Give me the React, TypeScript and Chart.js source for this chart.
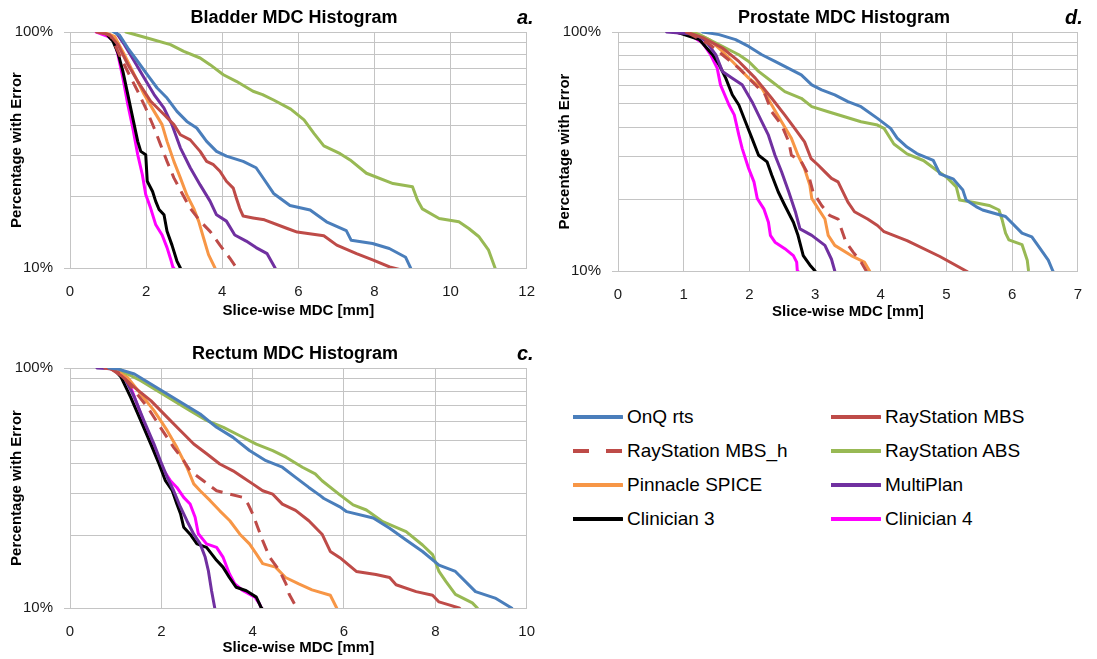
import React, { useEffect, useRef } from 'react';
import { Chart, registerables } from 'chart.js';

Chart.register(...registerables);

const FONT = '"Liberation Sans", Arial, sans-serif';
const GRID = '#c4c4c4';

// ---------- series metadata ----------
const seriesNames = [
  'OnQ rts',
  'RayStation MBS',
  'RayStation MBS_h',
  'RayStation ABS',
  'Pinnacle SPICE',
  'MultiPlan',
  'Clinician 3',
  'Clinician 4',
];
const seriesColors = ['#4A7EBB', '#BE4B48', '#BE4B48', '#98B954', '#F79646', '#7030A0', '#000000', '#FF00FF'];
const seriesDashed = [false, false, true, false, false, false, false, false];

// ---------- Bladder  [MDC mm, % with error] ----------
const bladderOnQ = [[1.15,100],[1.3,97],[1.52,85.5],[1.78,75],[2.03,65.9],[2.29,57.9],[2.55,52.5],[2.81,46.1],[3.07,41.8],[3.33,39.2],[3.59,34.4],[3.85,31.2],[4.11,29.8],[4.55,28.3],[4.89,26.6],[5.08,24],[5.35,20.7],[5.78,18.4],[6.31,17.6],[6.74,15.7],[7.26,14.4],[7.39,13.1],[7.95,12.7],[8.39,12.1],[8.82,11.1],[8.95,10],[9.0,9.5]];
const bladderMBS = [[0.7,100],[1.04,97.4],[1.26,88.4],[1.52,72.8],[1.78,61.8],[2.12,50.9],[2.47,44.7],[2.73,40.5],[2.9,36.7],[3.16,34.9],[3.42,31.2],[3.59,28.3],[3.77,27.4],[3.94,25.7],[4.11,23.3],[4.29,21.8],[4.37,19.8],[4.46,17.9],[4.55,16.6],[4.81,16.3],[5.11,16.0],[5.71,14.7],[5.97,14.2],[6.67,13.7],[7.01,12.5],[7.53,11.5],[7.97,10.8],[8.4,10.1],[8.83,9.7]];
const bladderMBSh = [[0.85,100],[1.08,95.9],[1.34,77.6],[1.6,63.9],[1.78,56.1],[1.99,47.6],[2.21,39.2],[2.38,33.3],[2.55,28.3],[2.73,24.1],[2.94,20.8],[3.16,17.9],[3.42,15.8],[3.68,14.3],[3.94,12.5],[4.2,11],[4.38,10],[4.45,9.6]];
const bladderABS = [[1.47,100],[2.03,94.3],[2.64,88.4],[2.99,82.8],[3.42,77.6],[3.68,72.7],[4.03,65.9],[4.37,61.8],[4.81,56.1],[5.06,54.3],[5.35,51.5],[5.8,47.1],[6.15,42.4],[6.41,37.2],[6.67,32.9],[7.1,30.5],[7.36,28.7],[7.79,25.2],[8.49,22.8],[9.0,22.1],[9.13,19.4],[9.26,17.8],[9.7,16.2],[10.22,15.7],[10.48,14.7],[10.74,13.6],[11.0,11.9],[11.17,10],[11.2,9.6]];
const bladderSPICE = [[0.87,100],[1.17,95.9],[1.43,80.2],[1.69,65.9],[1.95,54.3],[2.21,46.1],[2.42,40.5],[2.55,34.4],[2.73,28.3],[2.9,24.1],[3.07,20.4],[3.25,17.9],[3.38,15.8],[3.51,13.4],[3.64,11.4],[3.81,10],[3.85,9.6]];
const bladderMultiPlan = [[1.2,100],[1.43,88.4],[1.69,75.1],[1.95,63.9],[2.21,54.3],[2.47,47.6],[2.68,40.5],[2.9,32.3],[3.16,26.6],[3.42,22.5],[3.68,19.2],[3.85,16.8],[4.11,15.8],[4.33,13.8],[4.63,13],[4.89,12.2],[5.18,11.5],[5.39,10],[5.42,9.6]];
const bladderC3 = [[0.91,100],[1.13,91.3],[1.26,81.5],[1.39,68.1],[1.52,54.3],[1.65,43.2],[1.78,34.4],[1.86,31.2],[1.99,30.2],[2.03,23.3],[2.17,21.1],[2.25,19.2],[2.34,17.7],[2.47,16.8],[2.55,14.3],[2.68,12.5],[2.81,10.7],[2.9,10],[2.93,9.6]];
const bladderC4 = [[0.69,100],[0.99,95.9],[1.17,91.3],[1.26,80.2],[1.39,63.9],[1.52,49.2],[1.65,39.2],[1.78,30.2],[1.9,24.9],[1.99,20.5],[2.12,17.9],[2.25,15.3],[2.42,13.8],[2.55,12.2],[2.66,10.7],[2.71,10],[2.73,9.6]];

// ---------- Prostate ----------
const prostateOnQ = [[1.29,100],[1.54,97.5],[1.79,92.9],[1.99,87],[2.19,80.3],[2.39,75.3],[2.59,70.6],[2.79,66.2],[2.95,60.1],[3.1,57.3],[3.3,54.6],[3.5,51.1],[3.7,48.7],[3.95,43.5],[4.15,39.5],[4.25,36],[4.4,33],[4.55,31],[4.8,29],[4.9,25.5],[5.1,24.3],[5.25,21.8],[5.3,19.8],[5.45,18.6],[5.55,18],[5.9,16.9],[6.15,14.4],[6.3,13.9],[6.4,12.7],[6.55,11.1],[6.62,10],[6.65,9.6]];
const prostateMBS = [[1.04,100],[1.29,94.7],[1.59,85.7],[1.84,75.3],[2.09,64.1],[2.34,52.8],[2.54,44.9],[2.69,39.5],[2.84,34.7],[2.94,29.5],[3.05,27.7],[3.15,26],[3.25,24.4],[3.35,23.6],[3.4,22.1],[3.5,19.4],[3.6,17.7],[3.8,16.5],[3.95,15.5],[4.05,14.6],[4.4,13.4],[4.9,11.5],[5.3,10],[5.35,9.8]];
const prostateMBSh = [[1.04,100],[1.39,89],[1.59,80.3],[1.84,70.6],[2.04,62.1],[2.24,54.6],[2.34,46.4],[2.49,40.8],[2.6,34.7],[2.64,30.5],[2.79,28.7],[2.9,25.2],[2.97,21.4],[3.1,18.8],[3.22,17.1],[3.35,16.5],[3.4,15],[3.47,13.2],[3.58,12],[3.7,10.9],[3.78,10],[3.8,9.7]];
const prostateABS = [[1.1,100],[1.24,97.5],[1.44,91.4],[1.64,85.7],[1.84,80.3],[1.99,75.3],[2.14,68.4],[2.34,62.1],[2.54,56.3],[2.79,52.8],[2.95,48.7],[3.2,46.4],[3.45,44.2],[3.7,42.1],[3.95,40.8],[4.05,39.5],[4.2,34],[4.4,30.9],[4.65,29],[4.85,26.4],[5.0,24.7],[5.15,22.5],[5.2,19.8],[5.4,19.4],[5.65,18.8],[5.8,18],[5.85,16.3],[5.9,14.4],[5.95,13.5],[6.15,12.9],[6.23,11.1],[6.25,10],[6.26,9.6]];
const prostateSPICE = [[1.14,100],[1.39,92.9],[1.59,82.9],[1.79,72.9],[1.99,64.1],[2.19,58.2],[2.34,49.5],[2.49,42.1],[2.64,35.9],[2.74,30.5],[2.84,26.8],[2.92,22.9],[2.95,20.1],[3.05,18.2],[3.15,16.5],[3.2,14.1],[3.3,12.8],[3.55,11.6],[3.75,10.9],[3.83,10],[3.85,9.6]];
const prostateMultiPlan = [[0.74,100],[1.04,98.5],[1.19,97.5],[1.34,91.4],[1.49,80.3],[1.59,68.4],[1.74,64.1],[1.89,60.1],[2.04,51.1],[2.19,42.1],[2.29,37],[2.39,30.5],[2.49,26],[2.6,21.4],[2.7,17.7],[2.77,15],[2.95,14.1],[3.15,12.8],[3.25,11.2],[3.3,10],[3.31,9.6]];
const prostateC3 = [[0.89,100],[1.24,92.9],[1.44,80.3],[1.54,72.9],[1.64,64.1],[1.74,54.6],[1.84,49.5],[1.94,42.1],[2.04,35.9],[2.14,30.5],[2.27,28.6],[2.34,25.2],[2.44,21.4],[2.54,18.8],[2.67,16],[2.74,14.1],[2.82,11.6],[2.92,10.6],[3.0,10],[3.02,9.6]];
const prostateC4 = [[0.84,100],[1.09,97.5],[1.29,89.9],[1.41,80.3],[1.51,70.6],[1.56,60.1],[1.69,49.5],[1.77,45],[1.84,37],[1.89,32.6],[1.99,26.8],[2.07,23.6],[2.12,20.1],[2.22,18.2],[2.29,16],[2.32,14.1],[2.39,13.2],[2.54,12.4],[2.67,11.6],[2.72,10.9],[2.73,10],[2.74,9.6]];

// ---------- Rectum ----------
const rectumOnQ = [[0.85,100],[1.05,99],[1.41,94.4],[1.77,85.8],[2.13,77.9],[2.49,70.8],[2.85,64.3],[3.21,56.6],[3.57,51.4],[3.93,45.3],[4.29,41.1],[4.65,38.6],[4.94,35],[5.23,31.8],[5.48,29.4],[5.56,28.6],[5.91,26.4],[6.06,25.2],[6.64,23.7],[7.0,21.5],[7.36,19.2],[7.72,17.2],[8.08,15.1],[8.44,14.2],[8.88,11.7],[9.31,11],[9.67,10],[9.72,9.7]];
const rectumMBS = [[0.77,100],[0.9,99],[1.12,92.9],[1.41,83.1],[1.77,73.1],[2.13,62.3],[2.42,54.8],[2.71,48.2],[3.0,43.8],[3.28,39.8],[3.57,37.3],[3.79,35],[4.0,32.9],[4.22,30.8],[4.44,29.8],[4.65,27.1],[4.94,25.5],[5.23,23.1],[5.52,20.3],[5.7,17.2],[5.91,16.2],[6.27,14.2],[6.7,13.8],[7.0,13.4],[7.14,12.5],[7.58,11.7],[7.94,11.3],[8.08,10.6],[8.3,10.3],[8.52,10],[8.6,9.7]];
const rectumMBSh = [[0.85,100],[1.12,94.4],[1.41,80.5],[1.7,68.6],[1.98,56.6],[2.27,46.7],[2.49,41.1],[2.63,37.3],[2.92,33.9],[3.21,30.8],[3.5,29.8],[3.79,28.9],[3.9,27.1],[4.0,24.7],[4.11,21.7],[4.22,19.1],[4.37,16.3],[4.59,14.3],[4.73,12.6],[4.8,11.4],[4.94,10.2],[4.98,9.8]];
const rectumABS = [[1.06,100],[1.19,95.9],[1.55,88.6],[1.91,80.5],[2.27,73.1],[2.63,66.4],[3.0,60.3],[3.36,56.6],[3.72,52.2],[4.08,48.2],[4.44,45.3],[4.73,42.5],[5.09,38.6],[5.37,36.2],[5.52,33.9],[5.91,29.6],[6.2,26.9],[6.49,25.6],[6.85,22.9],[7.36,20.8],[7.72,18.3],[7.94,16.7],[8.08,14.2],[8.23,12.9],[8.44,11.4],[8.81,10.5],[8.92,10],[8.95,9.7]];
const rectumSPICE = [[0.77,100],[1.01,99],[1.26,91.4],[1.55,77.9],[1.84,66.4],[2.13,54.8],[2.34,46.7],[2.56,38.6],[2.71,32.9],[2.85,30.8],[3.07,28],[3.28,25.4],[3.5,23.1],[3.72,20.3],[3.93,18.5],[4.08,16.8],[4.22,15.3],[4.5,14.8],[4.72,13.4],[5.01,12.6],[5.3,11.9],[5.7,11.3],[5.84,10],[5.86,9.7]];
const rectumMultiPlan = [[0.59,100],[1.01,99],[1.19,91.4],[1.41,75.5],[1.62,60.3],[1.84,48.2],[1.98,41.1],[2.13,35],[2.27,30.8],[2.42,26.3],[2.56,23.1],[2.71,20.3],[2.85,18.5],[2.96,16.3],[3.03,14.3],[3.1,11.8],[3.17,10],[3.18,9.7]];
const rectumC3 = [[0.94,100],[1.12,91.4],[1.33,75.5],[1.55,60.3],[1.77,48.2],[1.95,39.8],[2.09,33.9],[2.24,30.8],[2.34,27.1],[2.42,24.7],[2.49,21.7],[2.63,20.3],[2.78,18.5],[2.99,17.9],[3.21,15.8],[3.35,14.8],[3.49,13.4],[3.64,12.2],[3.86,11.8],[4.08,11.1],[4.19,10],[4.2,9.7]];
const rectumC4 = [[0.92,100],[1.12,95.9],[1.33,83.1],[1.55,64.3],[1.77,49.8],[2.06,37.3],[2.2,33.9],[2.34,31.8],[2.49,28.9],[2.63,27.1],[2.74,23.9],[2.81,20.4],[2.99,18.5],[3.21,17.9],[3.35,16.3],[3.49,13.9],[3.61,12.6],[3.79,11.8],[4.05,11.1],[4.15,10.4],[4.19,10],[4.2,9.7]];

const bladderSeries = [bladderOnQ, bladderMBS, bladderMBSh, bladderABS, bladderSPICE, bladderMultiPlan, bladderC3, bladderC4];
const prostateSeries = [prostateOnQ, prostateMBS, prostateMBSh, prostateABS, prostateSPICE, prostateMultiPlan, prostateC3, prostateC4];
const rectumSeries = [rectumOnQ, rectumMBS, rectumMBSh, rectumABS, rectumSPICE, rectumMultiPlan, rectumC3, rectumC4];

// y gridlines (log minor ticks) and the ones that carry labels
const yGridValues = [10, 20, 30, 40, 50, 60, 70, 80, 90, 100];
const yLabeledTicks = [10, 100];
const xAxisTitle = 'Slice-wise MDC [mm]';
const yAxisTitle = 'Percentage with Error';

type PanelProps = {
  series: number[][][];
  xMax: number;
  xStep: number;
  left: number;
  top: number;
  width: number;
  height: number;
  padTop: number;
  padRight: number;
  xAxisHeight: number;
  xTitlePadBottom: number;
};

function Panel(p: PanelProps) {
  const ref = useRef<HTMLCanvasElement | null>(null);
  useEffect(() => {
    const canvas = ref.current;
    if (!canvas) return;
    const chart = new Chart(canvas, {
      type: 'line',
      data: {
        datasets: p.series.map((pts, i) => ({
          label: seriesNames[i],
          data: pts.map(([x, y]) => ({ x, y })),
          borderColor: seriesColors[i],
          backgroundColor: seriesColors[i],
          borderWidth: 3,
          borderDash: seriesDashed[i] ? [12, 8] : [],
          borderCapStyle: seriesDashed[i] ? 'butt' : 'round',
          borderJoinStyle: 'round',
          pointRadius: 0,
          pointHoverRadius: 0,
          tension: 0,
          fill: false,
        })),
      },
      options: {
        responsive: false,
        animation: false,
        events: [],
        layout: { padding: { left: 0, top: p.padTop, right: p.padRight, bottom: 0 } },
        plugins: {
          legend: { display: false },
          tooltip: { enabled: false },
          title: { display: false },
        },
        scales: {
          x: {
            type: 'linear',
            position: 'bottom',
            min: 0,
            max: p.xMax,
            ticks: {
              stepSize: p.xStep,
              autoSkip: false,
              maxRotation: 0,
              padding: 15,
              color: '#1a1a1a',
              font: { family: FONT, size: 15 },
            },
            grid: { color: GRID, lineWidth: 1, drawTicks: false },
            border: { color: GRID, width: 1 },
            title: {
              display: true,
              text: xAxisTitle,
              color: '#000',
              font: { family: FONT, size: 15, weight: 'bold' },
              padding: { top: 0, bottom: p.xTitlePadBottom },
            },
            afterFit: (s: any) => {
              s.height = p.xAxisHeight;
            },
          },
          y: {
            type: 'logarithmic',
            position: 'left',
            min: 10,
            max: 100,
            afterBuildTicks: (s: any) => {
              s.ticks = yGridValues.map((v) => ({ value: v, major: yLabeledTicks.includes(v) }));
            },
            ticks: {
              autoSkip: false,
              padding: 11,
              color: '#1a1a1a',
              font: { family: FONT, size: 15 },
              callback: (v: any) => (yLabeledTicks.includes(Number(v)) ? `${v}%` : ''),
            },
            grid: {
              color: GRID,
              lineWidth: 1,
              tickLength: 6,
              tickColor: (c: any) =>
                c.tick && yLabeledTicks.includes(Number(c.tick.value)) ? GRID : 'rgba(0,0,0,0)',
            },
            border: { color: GRID, width: 1 },
            title: {
              display: true,
              text: yAxisTitle,
              color: '#000',
              font: { family: FONT, size: 15, weight: 'bold' },
              padding: { top: 8, bottom: 0 },
            },
            afterFit: (s: any) => {
              s.width = 70;
            },
          },
        },
      } as any,
    });
    return () => chart.destroy();
  }, []);
  return (
    <canvas
      ref={ref}
      width={p.width}
      height={p.height}
      style={{ position: 'absolute', left: p.left, top: p.top, width: p.width, height: p.height }}
    />
  );
}

function TextAt(props: { text: string; cx?: number; x?: number; cy: number; size: number; italic?: boolean }) {
  const lh = Math.round(props.size * 1.25);
  const style: React.CSSProperties = {
    position: 'absolute',
    top: props.cy - lh / 2,
    lineHeight: `${lh}px`,
    fontFamily: FONT,
    fontSize: props.size,
    fontWeight: 'bold',
    fontStyle: props.italic ? 'italic' : 'normal',
    color: '#000',
    whiteSpace: 'nowrap',
  };
  if (props.cx !== undefined) {
    style.left = props.cx - 200;
    style.width = 400;
    style.textAlign = 'center';
  } else {
    style.left = props.x;
  }
  return <div style={style}>{props.text}</div>;
}

const legendCols = [573, 831];
const legendRows = [417, 451, 485, 519];

function Legend() {
  return (
    <>
      {seriesNames.map((name, i) => {
        const col = i % 2;
        const row = Math.floor(i / 2);
        const lx = legendCols[col];
        const cy = legendRows[row];
        return (
          <div key={name}>
            <svg width={50} height={8} style={{ position: 'absolute', left: lx, top: cy - 4 }}>
              <line
                x1={0}
                y1={4}
                x2={49}
                y2={4}
                stroke={seriesColors[i]}
                strokeWidth={4}
                strokeLinecap={seriesDashed[i] ? 'butt' : 'round'}
                strokeDasharray={seriesDashed[i] ? '16 17' : undefined}
              />
            </svg>
            <div
              style={{
                position: 'absolute',
                left: lx + 54,
                top: cy - 12,
                lineHeight: '24px',
                fontFamily: FONT,
                fontSize: 19,
                color: '#000',
                whiteSpace: 'nowrap',
              }}
            >
              {name}
            </div>
          </div>
        );
      })}
    </>
  );
}

export default function App() {
  return (
    <div
      style={{
        position: 'fixed',
        left: 0,
        top: 0,
        width: 1097,
        height: 659,
        overflow: 'hidden',
        background: '#fff',
      }}
    >
      <Panel series={bladderSeries} xMax={12} xStep={2} left={0} top={0} width={550} height={330} padTop={32} padRight={18} xAxisHeight={62} xTitlePadBottom={10} />
      <Panel series={prostateSeries} xMax={7} xStep={1} left={548} top={0} width={549} height={333} padTop={32} padRight={15} xAxisHeight={62} xTitlePadBottom={12} />
      <Panel series={rectumSeries} xMax={10} xStep={2} left={0} top={336} width={550} height={323} padTop={32} padRight={18} xAxisHeight={51} xTitlePadBottom={2} />

      <TextAt text="Bladder MDC Histogram" cx={294} cy={17} size={18} />
      <TextAt text="a." x={517} cy={17} size={20} italic />
      <TextAt text="Prostate MDC Histogram" cx={844} cy={17} size={18} />
      <TextAt text="d." x={1065} cy={17} size={20} italic />
      <TextAt text="Rectum MDC Histogram" cx={295} cy={353} size={18} />
      <TextAt text="c." x={517} cy={353} size={20} italic />

      <Legend />
    </div>
  );
}
